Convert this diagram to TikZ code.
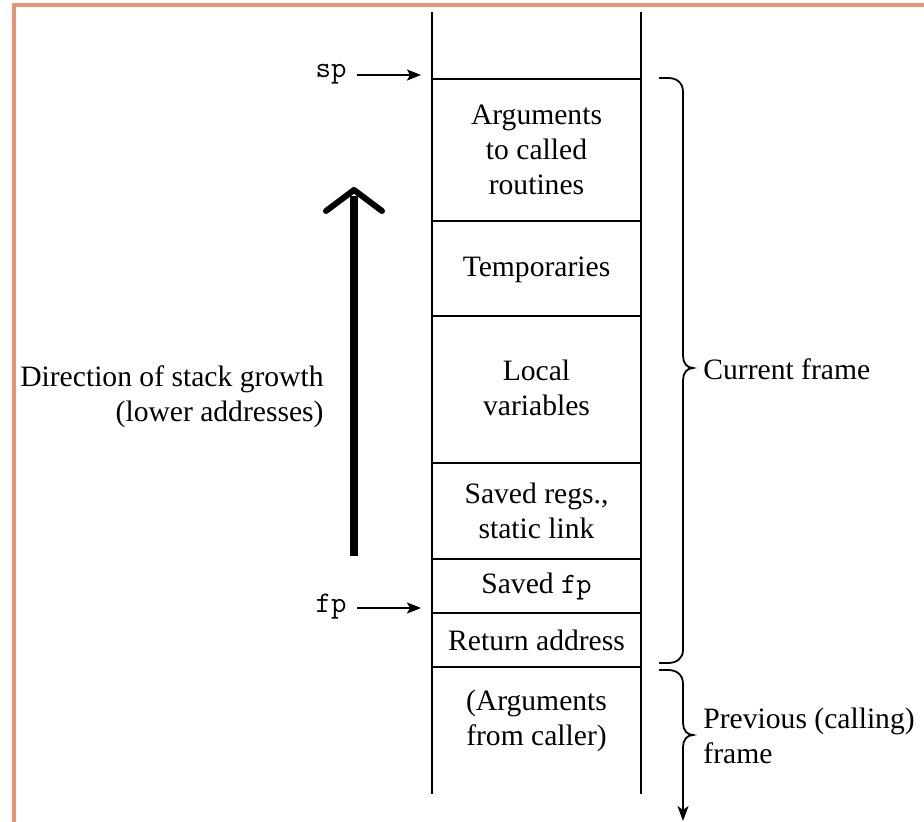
\documentclass[tikz,border=0pt]{standalone}
\usepackage{fontspec}
\setmainfont{Liberation Serif}
\usetikzlibrary{arrows.meta}
\definecolor{frameorange}{RGB}{232,146,116}
\begin{document}
\begin{tikzpicture}[x=0.5pt,y=-0.5pt,
  lbl/.style={font=\fontsize{14.8}{17.5}\selectfont, align=center, inner sep=0pt},
  mono/.style={font=\fontsize{15}{17}\selectfont\ttfamily, inner sep=0pt},
  wall/.style={line width=1pt},
  ptr/.style={line width=1pt,-{Stealth[length=7pt,width=5.5pt,inset=1.5pt]}},
  brc/.style={line width=0.9pt},
  growth/.style={line width=4pt},
  chevron/.style={line width=3pt, line cap=round, line join=round}]
\useasboundingbox (0,0) rectangle (924,822);
% orange frame
\draw[frameorange, line width=1.6pt] (14,822) -- (14,5) -- (924,5);
% stack walls
\coordinate (LT) at (432,12); \coordinate (LB) at (432,794);
\coordinate (RT) at (641,12); \coordinate (RB) at (641,794);
\draw[wall] (LT) -- (LB);
\draw[wall] (RT) -- (RB);
% cell boundaries
\foreach \y/\n in {79/a,221/b,316/c,463/d,559/e,613/f,667/g}{
  \coordinate (L\n) at (432,\y);
  \coordinate (R\n) at (641,\y);
  \draw[wall] (L\n) -- (R\n);
}
% cell texts
\node[lbl] (args) at (536.5,150) {Arguments\\to called\\routines};
\node[lbl] (temp) at (536.5,270) {Temporaries};
\node[lbl] (locals) at (536.5,388) {Local\\variables};
\node[lbl] (regs) at (536.5,511) {Saved regs.,\\static link};
\node[lbl] (savedfp) at (536.5,587) {Saved {\ttfamily fp}};
\node[lbl] (ret) at (536.5,640) {Return address};
\node[lbl] (caller) at (536.5,721) {(Arguments\\from caller)};
% pointers
\node[mono] (sp) at (331,74) {sp};
\coordinate (spT) at (421,75);
\draw[ptr] (357,75) -- (spT);
\node[mono] (fp) at (331,607) {fp};
\coordinate (fpT) at (421,608);
\draw[ptr] (357,608) -- (fpT);
% growth arrow
\coordinate (gB) at (354,556);
\coordinate (gA) at (354,190);
\draw[growth] (gB) -- (354,196);
\draw[chevron] (326,211) -- (gA) -- (382,211);
\node[lbl, align=right, anchor=east] (dir) at (324,397) {Direction of stack growth\\(lower addresses)};
% braces
\draw[brc] (659,78) -- (668,78) .. controls (677,78) and (683,83) .. (683,92)
  -- (683,356) .. controls (683,363) and (687,368) .. (693,368)
  .. controls (687,368) and (683,373) .. (683,380)
  -- (683,650) .. controls (683,658) and (677,663) .. (668,663) -- (659,663);
\node[lbl, anchor=west] (cur) at (703,369) {Current frame};
\coordinate (prevEnd) at (683,821);
\draw[brc, -{Stealth[length=7.5pt,width=5.5pt,inset=2pt]}] (659,670) -- (668,670) .. controls (677,670) and (683,675) .. (683,684)
  -- (683,723) .. controls (683,730) and (687,735) .. (693,735)
  .. controls (687,735) and (683,740) .. (683,747) -- (prevEnd);
\node[lbl, align=left, anchor=west] (prev) at (703,736) {Previous (calling)\\frame};
\end{tikzpicture}
\end{document}
